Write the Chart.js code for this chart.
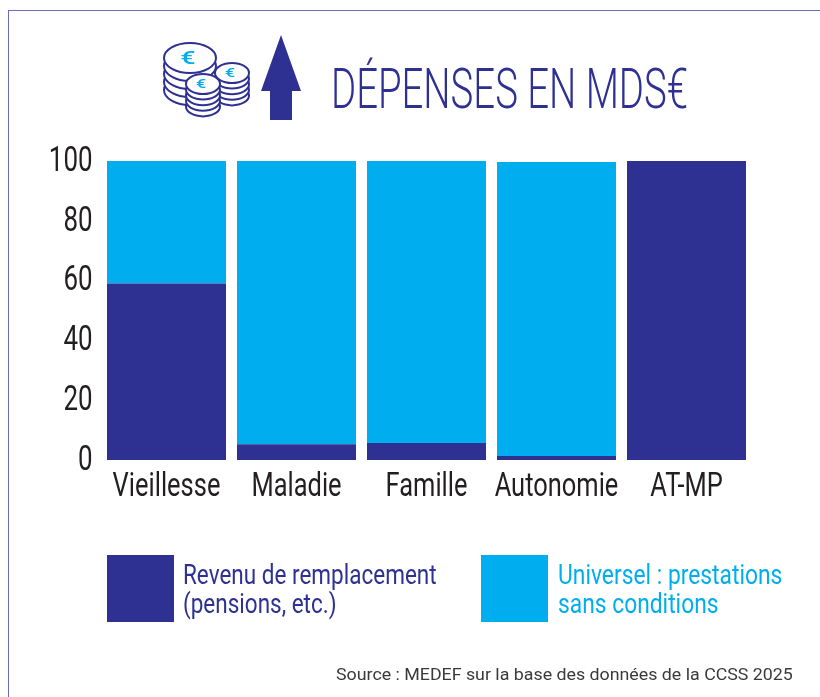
<!DOCTYPE html>
<html lang="fr"><head><meta charset="utf-8">
<script src="https://cdn.jsdelivr.net/npm/chart.js@4"></script>
<style>
html,body{margin:0;padding:0;background:#fff;overflow:hidden}
#wrap{position:relative;width:820px;height:697px}
#wrap canvas{position:absolute;left:0;top:0}
.fl{position:absolute;left:8px;top:10px;width:1px;height:687px;background:#6a6ac4}
.ft{position:absolute;left:8px;top:10px;width:812px;height:1px;background:#6a6ac4}
.t{position:absolute;white-space:nowrap;transform-origin:0 0}
#title{left:331px;top:57px;font:300 55px/64px Roboto;color:#2e3192}
.lg{font:400 28px/29px Roboto}
.sw{position:absolute;width:67px;height:67px;top:555px}
#src{left:336px;top:665px;font:400 16px/20px Roboto;color:#3a3a3a}
svg{position:absolute;left:0;top:0}
</style></head><body>
<div id="wrap">
<canvas id="c" width="820" height="697"></canvas>
<div class="fl"></div><div class="ft"></div>
<svg width="820" height="130" id="icon"></svg>
<div class="t" id="title">DÉPENSES EN MDS€</div>
<div class="sw" id="s1" style="left:107px"></div>
<div class="t lg" id="l1" style="left:183px;top:560px"></div>
<div class="sw" id="s2" style="left:481px"></div>
<div class="t lg" id="l2" style="left:558px;top:560px"></div>
<div class="t" id="src">Source : MEDEF sur la base des données de la CCSS 2025</div>
</div>
<script>
const categories=["Vieillesse","Maladie","Famille","Autonomie","AT-MP"];
const revenu=[59,5.3,5.7,1.3,100];
const universel=[41,94.7,94.3,98.4,0];
const seriesNames=["Revenu de remplacement\n(pensions, etc.)","Universel : prestations\nsans conditions"];
const DARK="#2e3192",CYAN="#00aeef";

document.getElementById('s1').style.background=DARK;
document.getElementById('s2').style.background=CYAN;
const l1=document.getElementById('l1'),l2=document.getElementById('l2');
l1.style.color=DARK;l2.style.color=CYAN;
l1.innerHTML=seriesNames[0].replace("\n","<br>");
l2.innerHTML=seriesNames[1].replace("\n","<br>");
function fit(el,w){el.style.transform='scaleX('+(w/el.offsetWidth)+')';}
fit(document.getElementById('title'),357);
fit(l1,254);fit(l2,224);
fit(document.getElementById('src'),457);

function stack(cx,topY,rx,ry,n,gap){
  let s='';
  for(let i=n;i>=0;i--){
    const y=topY+i*gap;
    s+=`<ellipse cx="${cx}" cy="${y}" rx="${rx}" ry="${ry}" fill="#fff" stroke="${DARK}" stroke-width="2"/>`;
  }
  s+=`<text transform="translate(${cx-2},${topY+ry*0.42}) scale(1.5,1)" text-anchor="middle" font-family="Roboto" font-weight="500" font-size="${ry*1.2}" fill="${CYAN}">€</text>`;
  return s;
}
document.getElementById('icon').innerHTML=
  stack(190,58,26,15,4,8)+stack(232,73,17,10,4,5.6)+stack(203,84,17,10,4,5.6)+
  `<polygon points="281,35 301,91 292,91 292,120 270,120 270,91 261,91" fill="${DARK}"/>`;

// Condensed tick lettering: Chart.js places each label, the glyphs are narrowed around that anchor.
const canvas=document.getElementById('c');
const ctx=canvas.getContext('2d');
const rawFill=ctx.fillText.bind(ctx);
ctx.fillText=function(text,x,y){
  const isX=ctx.textAlign==='center';
  ctx.save();ctx.translate(x,isX?y:y+1);ctx.scale(isX?0.76:0.74,1);rawFill(text,0,0);ctx.restore();
};

new Chart(canvas,{
  type:'bar',
  data:{labels:categories,datasets:[
    {label:seriesNames[0],data:revenu,backgroundColor:DARK,borderWidth:0},
    {label:seriesNames[1],data:universel,backgroundColor:CYAN,borderWidth:0}
  ]},
  options:{
    responsive:false,animation:false,
    layout:{padding:{left:0,top:161,right:68.5,bottom:0}},
    plugins:{legend:{display:false},tooltip:{enabled:false},title:{display:false}},
    datasets:{bar:{categoryPercentage:1,barPercentage:119/130}},
    scales:{
      x:{stacked:true,grid:{display:false},border:{display:false},
        ticks:{font:{family:'Roboto',size:33.5},color:'#231f20',padding:0,maxRotation:0,autoSkip:false},
        afterFit(s){s.height=237;}},
      y:{stacked:true,min:0,max:100,grid:{display:false},border:{display:false},
        ticks:{stepSize:20,font:{family:'Roboto',size:35},color:'#231f20',padding:1},
        afterFit(s){s.width=101.5;}}
    }
  }
});
</script>
</body></html>
